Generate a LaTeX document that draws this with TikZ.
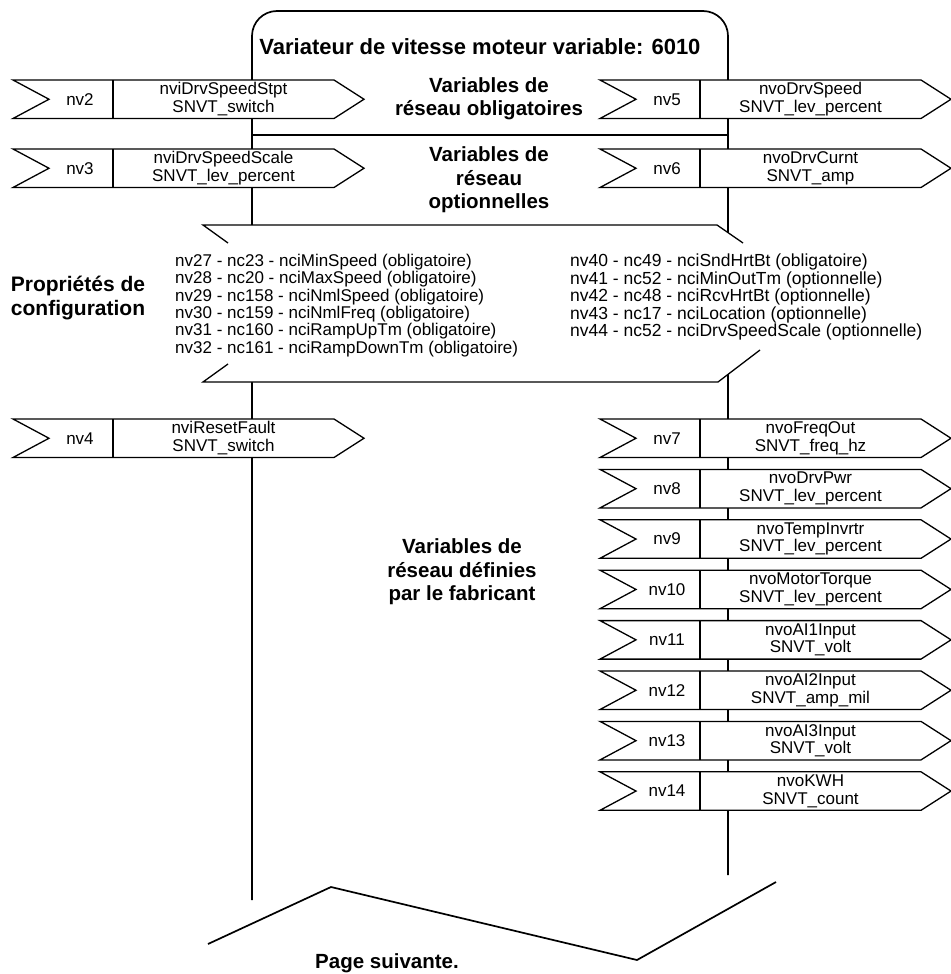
\documentclass[tikz,border=0pt]{standalone}
\usepackage{fontspec}
\setmainfont{Liberation Sans}

\tikzset{
  mainline/.style={line width=1.7pt},
  arrowline/.style={line width=1.3pt,fill=white,line join=miter},
  nvtext/.style={font=\fontsize{17}{17.6}\selectfont,align=center,inner sep=0pt},
  cfgtext/.style={font=\fontsize{17}{17.4}\selectfont,align=left,inner sep=0pt},
  boldlbl/.style={font=\fontsize{20.5}{23.5}\selectfont\bfseries,align=center,inner sep=0pt}
}

% signal arrow: name, left x, top y, nv number, two-line label
\newcommand{\nvarrow}[5]{%
  \draw[arrowline] (#2,#3) -- ++(321,0) -- ++(30,19.25) -- ++(-30,19.25) -- ++(-321,0) -- ++(36,-19.25) -- cycle;
  \draw[arrowline] (#2+100,#3) -- ++(0,38.5);
  \node[nvtext] (#1-nv) at (#2+67,#3+19.25) {#4};
  \node[nvtext] (#1-lbl) at (#2+210.5,#3+19.25) {#5};
}

\begin{document}
\begin{tikzpicture}[x=1pt,y=-1pt]
\useasboundingbox (0,0) rectangle (950,974);

% outline of the drive
\coordinate (tl) at (252,11);
\coordinate (tr) at (728,11);
\coordinate (lb) at (252,900);
\coordinate (rb) at (728,875);
\draw[mainline,rounded corners=25pt] (lb) -- (tl) -- (tr) -- (rb);
\draw[line width=2.2pt] (252,135) -- (728,135);

\node[boldlbl,font=\fontsize{22}{24}\selectfont\bfseries] (title) at (480,47) {Variateur de vitesse moteur variable: 6010};
\node[boldlbl] (oblig) at (489,98.5) {Variables de\\réseau obligatoires};
\node[boldlbl] (option) at (489,180) {Variables de\\réseau\\optionnelles};

% mandatory / optional network variables
\nvarrow{nv2}{13}{80}{nv2}{nviDrvSpeedStpt\\SNVT\_switch}
\nvarrow{nv5}{600}{80}{nv5}{nvoDrvSpeed\\SNVT\_lev\_percent}
\nvarrow{nv3}{13}{149}{nv3}{nviDrvSpeedScale\\SNVT\_lev\_percent}
\nvarrow{nv6}{600}{149}{nv6}{nvoDrvCurnt\\SNVT\_amp}

% configuration properties
\fill[white] (203,225) -- (717,225) -- (743,243) -- (760,350) -- (718,382) -- (203,382) -- (228,364) -- (228,243) -- cycle;
\draw[arrowline,fill=none] (228,243) -- (203,225) -- (717,225) -- (743,243);
\draw[arrowline,fill=none] (760,350) -- (718,382) -- (203,382) -- (228,364);
\node[boldlbl,font=\fontsize{21}{23.5}\selectfont\bfseries] (cfg) at (78,298) {Propriétés de\\configuration};
\node[cfgtext,anchor=west] (cfgleft) at (175,305.5) {nv27 - nc23 - nciMinSpeed (obligatoire)\\
nv28 - nc20 - nciMaxSpeed (obligatoire)\\
nv29 - nc158 - nciNmlSpeed (obligatoire)\\
nv30 - nc159 - nciNmlFreq (obligatoire)\\
nv31 - nc160 - nciRampUpTm (obligatoire)\\
nv32 - nc161 - nciRampDownTm (obligatoire)};
\node[cfgtext,anchor=north west,font=\fontsize{17.5}{17.4}\selectfont] (cfgright) at (570,254) {nv40 - nc49 - nciSndHrtBt (obligatoire)\\
nv41 - nc52 - nciMinOutTm (optionnelle)\\
nv42 - nc48 - nciRcvHrtBt (optionnelle)\\
nv43 - nc17 - nciLocation (optionnelle)\\
nv44 - nc52 - nciDrvSpeedScale (optionnelle)};

% manufacturer defined network variables
\nvarrow{nv4}{13}{419}{nv4}{nviResetFault\\SNVT\_switch}
\nvarrow{nv7}{600}{419}{nv7}{nvoFreqOut\\SNVT\_freq\_hz}
\nvarrow{nv8}{600}{469.4}{nv8}{nvoDrvPwr\\SNVT\_lev\_percent}
\nvarrow{nv9}{600}{519.8}{nv9}{nvoTempInvrtr\\SNVT\_lev\_percent}
\nvarrow{nv10}{600}{570.2}{nv10}{nvoMotorTorque\\SNVT\_lev\_percent}
\nvarrow{nv11}{600}{620.6}{nv11}{nvoAI1Input\\SNVT\_volt}
\nvarrow{nv12}{600}{671}{nv12}{nvoAI2Input\\SNVT\_amp\_mil}
\nvarrow{nv13}{600}{721.4}{nv13}{nvoAI3Input\\SNVT\_volt}
\nvarrow{nv14}{600}{771.8}{nv14}{nvoKWH\\SNVT\_count}
\node[boldlbl] (manuf) at (462,572) {Variables de\\réseau définies\\par le fabricant};

% continued on next page
\draw[mainline] (208,944) -- (331,887) -- (637,960) -- (776,882);
\node[boldlbl] (next) at (387,963) {Page suivante.};
\end{tikzpicture}
\end{document}
